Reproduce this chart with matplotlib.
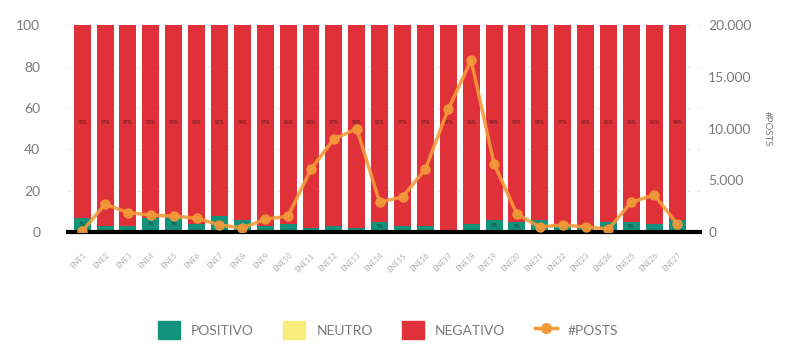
import numpy as np
import matplotlib
matplotlib.use("Agg")
import matplotlib.pyplot as plt
from matplotlib.patches import Patch
from matplotlib.lines import Line2D

plt.rcParams['font.family'] = ['Lato', 'DejaVu Sans']

days = ["ENE%d" % i for i in range(1, 28)]
negativo = [93, 97, 97, 93, 93, 96, 92, 94, 97, 96, 98, 97, 98, 95, 97, 97, 99,
            96, 94, 95, 94, 97, 98, 95, 95, 96, 94]
neutro = [0] * 27
positivo = [100 - n for n in negativo]
posts = [100, 2700, 1900, 1650, 1550, 1350, 700, 400, 1250, 1550, 6100, 9000,
         10000, 2900, 3400, 6100, 11900, 16600, 6600, 1750, 500, 700, 500, 300,
         2900, 3600, 800]

GREEN = "#14917a"
YELLOW = "#f7ec7c"
RED = "#e0313a"
ORANGE = "#f29a38"
GREY = "#7a7a7a"

fig = plt.figure(figsize=(8, 3.55), dpi=100)
ax = fig.add_axes([0.085, 0.346, 0.79, 0.583])
x = np.arange(len(days))
w = 0.74

ax.yaxis.grid(True, color="#bbbbbb", linestyle=(0, (1, 8)), linewidth=0.8)
ax.set_axisbelow(True)

ax.bar(x, positivo, w, color=GREEN, zorder=2)
ax.bar(x, neutro, w, bottom=positivo, color=YELLOW, zorder=2)
bot = np.array(positivo) + np.array(neutro)
ax.bar(x, negativo, w, bottom=bot, color=RED, zorder=2)

for i in range(len(days)):
    ax.text(x[i], 53, "%d%%" % negativo[i], ha="center", va="center",
            fontsize=3.5, color="#4a1a1a", zorder=3)
    if positivo[i] >= 5:
        ax.text(x[i], positivo[i] / 2, "%d%%" % positivo[i], ha="center",
                va="center", fontsize=3.5, color="#0b3d33", zorder=3)

ax.set_xlim(-0.62, 27.0)
ax.set_ylim(0, 100)
ax.set_yticks([0, 20, 40, 60, 80, 100])
ax.set_xticks(x)
ax.set_xticklabels(days, rotation=45, ha="right", rotation_mode="anchor",
                   fontsize=5.5, color="#b0b0b0")
ax.tick_params(axis="x", length=0, pad=14)
ax.tick_params(axis="y", length=0, labelsize=10, labelcolor=GREY, pad=20)
for s in ["top", "right", "left"]:
    ax.spines[s].set_visible(False)
ax.spines["bottom"].set_linewidth(3)
ax.spines["bottom"].set_color("black")
ax.spines["bottom"].set_zorder(4)

ax2 = ax.twinx()
ax2.plot(x, posts, color=ORANGE, lw=2.5, marker="o", markersize=6.5,
         alpha=0.9, zorder=5)
ax2.set_ylim(0, 20000)
ax2.set_yticks([0, 5000, 10000, 15000, 20000])
ax2.set_yticklabels(["0", "5.000", "10.000", "15.000", "20.000"])
ax2.tick_params(axis="y", length=0, labelsize=10, labelcolor=GREY, pad=6)
for s in ["top", "right", "left", "bottom"]:
    ax2.spines[s].set_visible(False)
ax2.set_ylabel("#POSTS", rotation=270, fontsize=7, color=GREY, labelpad=14)

handles = [Patch(color=GREEN), Patch(color=YELLOW), Patch(color=RED),
           Line2D([], [], color=ORANGE, lw=2.5, marker="o", markersize=7)]
fig.legend(handles, ["POSITIVO", "NEUTRO", "NEGATIVO", "#POSTS"], ncol=4,
           loc="center", bbox_to_anchor=(0.485, 0.07), frameon=False,
           fontsize=10, labelcolor=GREY, handlelength=1.6, handleheight=1.6,
           columnspacing=2.1, handletextpad=0.8)

fig.savefig("out.png", dpi=100)
